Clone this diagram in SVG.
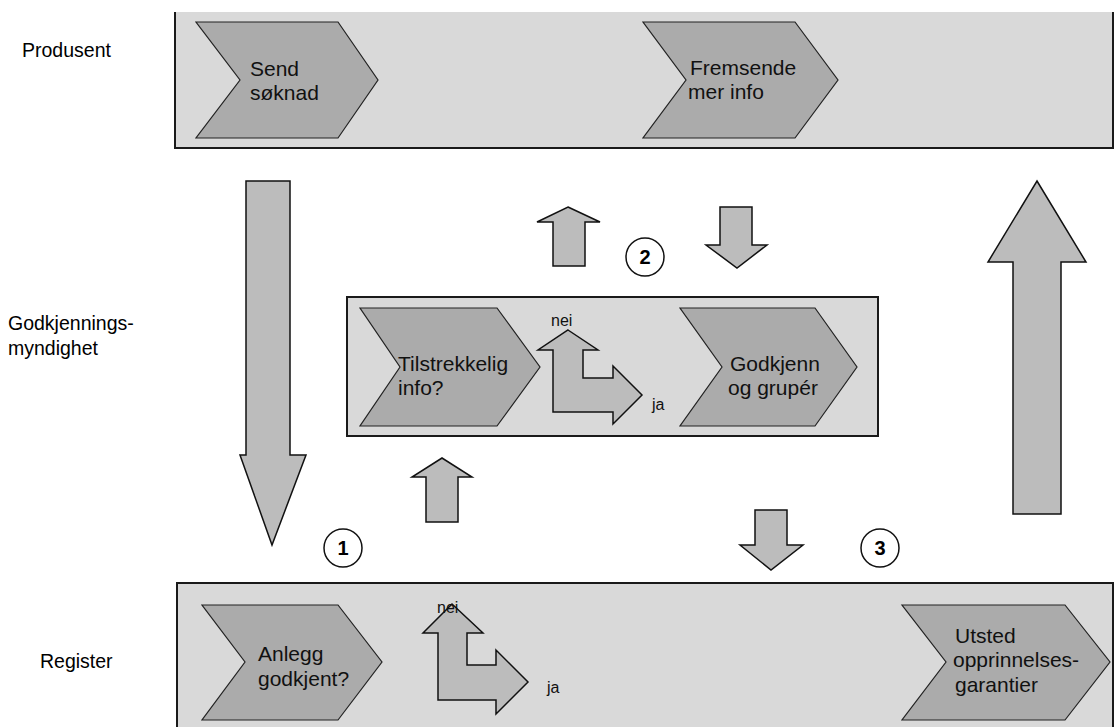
<svg xmlns="http://www.w3.org/2000/svg" width="1116" height="727" viewBox="0 0 1116 727">
<style>
  .lbl { font-family: "Liberation Sans", Arial, sans-serif; font-size: 19.5px; fill: #000; }
  .txt { font-family: "Liberation Sans", Arial, sans-serif; font-size: 21px; fill: #111; }
  .small { font-family: "Liberation Sans", Arial, sans-serif; font-size: 16px; fill: #111; }
  .band { fill: #d9d9d9; }
  .edge { stroke: #1a1a1a; stroke-width: 2; fill: none; }
  .chev { fill: #ababab; stroke: #222; stroke-width: 1.2; }
  .arrow { fill: #bcbcbc; stroke: #111; stroke-width: 1.5; stroke-linejoin: miter; }
  .circ { fill: #fff; stroke: #111; stroke-width: 1.5; }
  .num { font-family: "Liberation Sans", Arial, sans-serif; font-size: 20px; font-weight: bold; fill: #000; text-anchor: middle; }
</style>
<rect width="1116" height="727" fill="#fff"/>

<g id="lane-produsent">
  <rect class="band" x="175" y="12" width="938" height="136"/>
  <path class="edge" d="M175,12 V148 H1113 V12"/>
  <text class="lbl" x="22" y="57">Produsent</text>
</g>
<g id="lane-godkjenning">
  <text class="lbl" x="8" y="330">Godkjennings-</text>
  <text class="lbl" x="8" y="355">myndighet</text>
  <rect class="band" x="347" y="297" width="531" height="139"/>
  <rect id="box-mid" x="347" y="297" width="531" height="139" fill="none" stroke="#1a1a1a" stroke-width="2"/>
</g>
<g id="lane-register">
  <rect class="band" x="177" y="583" width="936" height="144"/>
  <path class="edge" d="M177,727 V583 H1113 V727"/>
  <text class="lbl" x="40" y="668">Register</text>
</g>

<g id="node-send">
  <polygon class="chev" points="196,22 338,22 378,80 338,138 196,138 240,80"/>
  <text class="txt" x="250" y="76">Send</text>
  <text class="txt" x="250" y="100">søknad</text>
</g>
<g id="node-fremsende">
  <polygon class="chev" points="643,22 795,22 838,80 795,138 643,138 686,80"/>
  <text class="txt" x="690" y="75">Fremsende</text>
  <text class="txt" x="688" y="99">mer info</text>
</g>
<g id="node-tilstrekkelig">
  <polygon class="chev" points="360,308 497,308 540,367 497,426 360,426 400,367"/>
  <text class="txt" x="398" y="371">Tilstrekkelig</text>
  <text class="txt" x="398" y="395">info?</text>
</g>
<g id="node-godkjenn">
  <polygon class="chev" points="680,308 815,308 857,367 815,426 680,426 722,367"/>
  <text class="txt" x="730" y="371">Godkjenn</text>
  <text class="txt" x="728" y="395">og grupér</text>
</g>
<g id="node-anlegg">
  <polygon class="chev" points="202,605 338,605 382,662 338,720 202,720 245,662"/>
  <text class="txt" x="258" y="661">Anlegg</text>
  <text class="txt" x="258" y="686">godkjent?</text>
</g>
<g id="node-utsted">
  <polygon class="chev" points="902,605 1065,605 1110,662 1065,720 902,720 946,662"/>
  <text class="txt" x="955" y="643">Utsted</text>
  <text class="txt" x="953" y="667">opprinnelses-</text>
  <text class="txt" x="955" y="692">garantier</text>
</g>

<g id="decision-mid">
  <polygon class="arrow" points="568,330 598,350 583,350 583,378 613,378 613,366 642,395 613,424 613,412 553,412 553,350 538,350"/>
  <text class="small" x="551" y="326">nei</text>
  <text class="small" x="652" y="410">ja</text>
</g>
<g id="decision-register">
  <polygon class="arrow" points="452,604 483,633 467,633 467,665 496,665 496,650 528,682 496,714 496,700 438,700 438,633 423,633"/>
  <text class="small" x="437" y="613">nei</text>
  <text class="small" x="547" y="693">ja</text>
</g>

<g id="markers">
  <circle class="circ" cx="343" cy="548" r="19"/>
  <text class="num" x="343" y="555">1</text>
  <circle class="circ" cx="645" cy="257" r="19"/>
  <text class="num" x="645" y="264">2</text>
  <circle class="circ" cx="880" cy="548" r="19"/>
  <text class="num" x="880" y="555">3</text>
</g>

<g id="connectors">
  <polygon class="arrow" points="246,181 290,181 290,455 306,455 272,545 240,455 246,455"/>
  <polygon class="arrow" points="568,207 600,222 585,222 585,266 553,266 553,222 537,222"/>
  <polygon class="arrow" points="720,207 752,207 752,245 767,245 737,268 706,245 720,245"/>
  <polygon class="arrow" points="442,458 472,477 458,477 458,522 426,522 426,477 412,477"/>
  <polygon class="arrow" points="755,510 787,510 787,545 803,545 771,570 740,545 755,545"/>
  <polygon class="arrow" points="1037,181 1086,262 1061,262 1061,514 1013,514 1013,262 988,262"/>
</g>
</svg>
